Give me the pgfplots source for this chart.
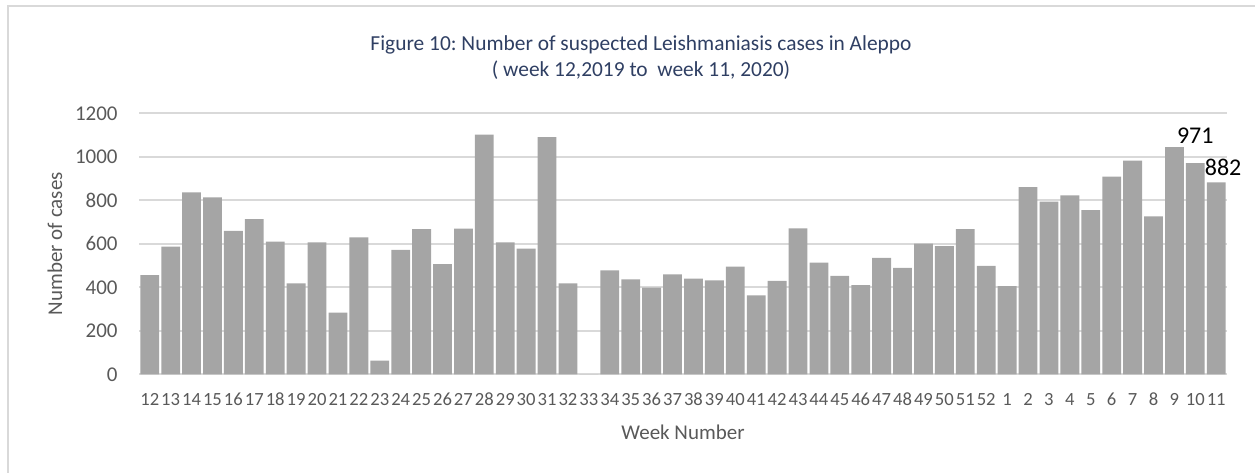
\documentclass[border=0pt]{standalone}
\usepackage{fontspec}
\setmainfont{Carlito}
\usepackage{pgfplots}
\pgfplotsset{compat=1.18}
\frenchspacing
\definecolor{bargray}{HTML}{A5A5A5}
\definecolor{gridgray}{HTML}{D9D9D9}
\definecolor{ticktext}{HTML}{595959}
\definecolor{titleblue}{HTML}{2F3F63}
\begin{document}
\begin{tikzpicture}
\path[use as bounding box] (0,0) rectangle (627.5pt,236pt);
\draw[gridgray, line width=0.9pt] (4pt,-2pt) -- (4pt,233pt) -- (630pt,233pt);
\begin{axis}[
  at={(69.65pt,48.85pt)}, anchor=south west,
  width=543.7pt, height=130.5pt, scale only axis,
  ymin=0, ymax=1200, ytick={0,200,...,1200},
  xmin=-0.5, xmax=51.5,
  xtick={0,...,51},
  xticklabels={12,13,14,15,16,17,18,19,20,21,22,23,24,25,26,27,28,29,30,31,32,33,34,35,36,37,38,39,40,41,42,43,44,45,46,47,48,49,50,51,52,1,2,3,4,5,6,7,8,9,10,11},
  axis line style={draw=none},
  tick style={draw=none},
  ymajorgrids,
  major grid style={gridgray, line width=0.9pt},
  /pgf/number format/assume math mode=true,
  /pgf/number format/1000 sep={},
  ticklabel style={text=ticktext},
  xticklabel style={font=\fontsize{9.3}{10}\selectfont, anchor=center, inner sep=0pt, yshift=-12.5pt},
  yticklabel style={font=\fontsize{10.5}{12}\selectfont, anchor=east, inner sep=0pt, xshift=-10.65pt},
  clip=false,
]
\addplot[ybar, bar width=0.9, fill=bargray, draw=none] coordinates {
(0,456) (1,587) (2,837) (3,814) (4,660) (5,713) (6,610) (7,418) (8,607) (9,283)
(10,630) (11,63) (12,572) (13,667) (14,507) (15,670) (16,1102) (17,607) (18,578) (19,1090)
(20,418) (21,0) (22,478) (23,437) (24,398) (25,460) (26,440) (27,432) (28,495) (29,363)
(30,429) (31,671) (32,513) (33,453) (34,410) (35,535) (36,489) (37,601) (38,589) (39,668)
(40,499) (41,405) (42,861) (43,794) (44,823) (45,755) (46,909) (47,982) (48,726) (49,1044)
(50,971) (51,882)
};
\node[font=\fontsize{12}{14}\selectfont, text=black, inner sep=0pt] at (axis cs:50,1095) {971};
\node[font=\fontsize{12}{14}\selectfont, text=black, inner sep=0pt] at (axis cs:51.33,952) {882};
\end{axis}
\node[align=center, font=\fontsize{10.7}{13}\selectfont, text=titleblue] at (320.5pt,207pt) {Figure 10: Number of suspected Leishmaniasis cases in Aleppo\\( week 12,2019 to\ \ week 11, 2020)};
\node[font=\fontsize{10.5}{12}\selectfont, text=ticktext, rotate=90] at (27.5pt,114.15pt) {Number of cases};
\node[font=\fontsize{10.5}{12}\selectfont, text=ticktext] at (341.5pt,20pt) {Week Number};
\end{tikzpicture}
\end{document}
